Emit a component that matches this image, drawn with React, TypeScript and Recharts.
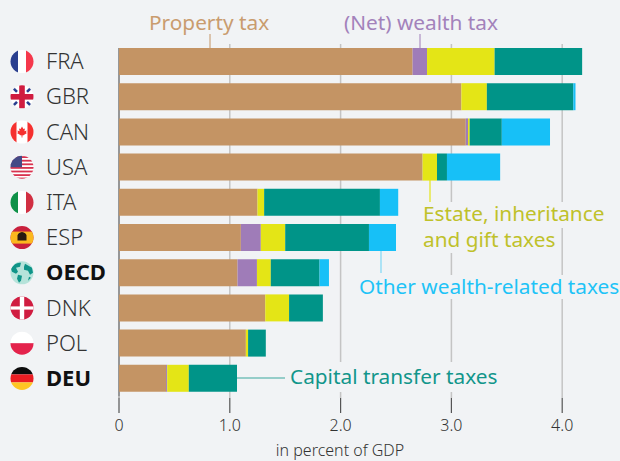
import { Bar, BarChart, CartesianGrid, XAxis, YAxis } from "recharts";

const countries = ["FRA", "GBR", "CAN", "USA", "ITA", "ESP", "OECD", "DNK", "POL", "DEU"];
const propertyTax = [2.65, 3.09, 3.13, 2.74, 1.25, 1.1, 1.07, 1.32, 1.145, 0.425];
const wealthTax = [0.13, 0, 0.02, 0, 0, 0.18, 0.175, 0, 0, 0.01];
const estateTax = [0.61, 0.23, 0.015, 0.13, 0.06, 0.22, 0.125, 0.215, 0.02, 0.195];
const capitalTax = [0.79, 0.78, 0.29, 0.09, 1.045, 0.756, 0.44, 0.305, 0.16, 0.435];
const otherTax = [0, 0.02, 0.435, 0.48, 0.165, 0.244, 0.085, 0, 0, 0];
const xTicks = [0, 1, 2, 3, 4];
const gridValues = [1, 2, 3, 4];
const boldCountries = ["OECD", "DEU"];

const data = countries.map((country, i) => ({
  country,
  propertyTax: propertyTax[i],
  wealthTax: wealthTax[i],
  estateTax: estateTax[i],
  capitalTax: capitalTax[i],
  otherTax: otherTax[i],
}));

const BG = "#f1f3f5";
const FONT = "'Noto Sans', sans-serif";

function FlagArt({ code }: { code: string }) {
  const navy = "#2a3f8f";
  switch (code) {
    case "FRA":
      return (
        <>
          <rect x={-12} y={-12} width={8} height={24} fill={navy} />
          <rect x={-4} y={-12} width={8} height={24} fill="#fff" />
          <rect x={4} y={-12} width={8} height={24} fill="#f5384c" />
        </>
      );
    case "GBR":
      return (
        <>
          <rect x={-12} y={-12} width={24} height={24} fill="#fff" />
          <path d="M-9,-9 L-5,-5 M9,-9 L5,-5 M-9,9 L-5,5 M9,9 L5,5" stroke={navy} strokeWidth={2.6} />
          <rect x={-2.8} y={-12} width={5.6} height={24} fill="#d01c40" />
          <rect x={-12} y={-2.8} width={24} height={5.6} fill="#d01c40" />
        </>
      );
    case "CAN":
      return (
        <>
          <rect x={-12} y={-12} width={24} height={24} fill="#fff" />
          <rect x={-12} y={-12} width={6.5} height={24} fill="#f5302f" />
          <rect x={5.5} y={-12} width={6.5} height={24} fill="#f5302f" />
          <path d="M0,-5.5 L1.4,-3 L3,-3.6 L2.4,-0.8 L4.6,-1.6 L4,0.4 L5,1 L1,3.4 L0.4,3.2 L0.4,5.5 L-0.4,5.5 L-0.4,3.2 L-1,3.4 L-5,1 L-4,0.4 L-4.6,-1.6 L-2.4,-0.8 L-3,-3.6 L-1.4,-3 Z" fill="#f5302f" />
        </>
      );
    case "USA":
      return (
        <>
          <rect x={-12} y={-12} width={24} height={24} fill="#fff" />
          {[-11, -7.4, -3.8, -0.2, 3.4, 7, 10.4].map((y) => (
            <rect key={y} x={-12} y={y} width={24} height={1.8} fill="#d8324f" />
          ))}
          <rect x={-12} y={-12} width={12} height={12} fill="#444a86" />
        </>
      );
    case "ITA":
      return (
        <>
          <rect x={-12} y={-12} width={8} height={24} fill="#0f9148" />
          <rect x={-4} y={-12} width={8} height={24} fill="#fff" />
          <rect x={4} y={-12} width={8} height={24} fill="#d12f42" />
        </>
      );
    case "ESP":
      return (
        <>
          <rect x={-12} y={-12} width={24} height={24} fill="#c9203d" />
          <rect x={-12} y={-6} width={24} height={12} fill="#fbb81e" />
          <path d="M-4.5,3 L-4.5,-2 Q-4,-5 0,-5.5 Q4,-5 4.5,-2 L4.5,3 Z" fill="#2a1a10" />
        </>
      );
    case "OECD":
      return (
        <>
          <rect x={-12} y={-12} width={24} height={24} fill="#b6e3da" />
          <path d="M-11,-4 Q-7,-11 -1,-10 L-2,-6 L-6,-5 L-4,-1 L-6,1 L-10,-1 Z M-4,2 L0,3 L-1,8 L-3,10 L-5,6 Z M3,-9 L10,-5 L11,0 L8,2 L6,-2 L2,-3 L2,-6 Z M7,4 L9,5 L6,8 Z" fill="#0f9488" />
        </>
      );
    case "DNK":
      return (
        <>
          <rect x={-12} y={-12} width={24} height={24} fill="#d01c40" />
          <rect x={-2.2} y={-12} width={4.4} height={24} fill="#fff" />
          <rect x={-12} y={-1.6} width={24} height={3.2} fill="#fff" />
        </>
      );
    case "POL":
      return (
        <>
          <rect x={-12} y={-12} width={24} height={12} fill="#fff" />
          <rect x={-12} y={0} width={24} height={12} fill="#e4234c" />
        </>
      );
    default:
      return (
        <>
          <rect x={-12} y={-12} width={24} height={8} fill="#0c0c0c" />
          <rect x={-12} y={-4} width={24} height={8} fill="#ea1d23" />
          <rect x={-12} y={4} width={24} height={8} fill="#fec524" />
        </>
      );
  }
}

function CountryTick({ y, payload }: any) {
  const code = payload.value;
  const bold = boldCountries.includes(code);
  return (
    <g>
      <g transform={`translate(22,${y})`}>
        <clipPath id={`flag-${code}`}>
          <circle r={11.5} />
        </clipPath>
        <g clipPath={`url(#flag-${code})`}>
          <FlagArt code={code} />
        </g>
      </g>
      <text
        x={46}
        y={y + 7.5}
        fontFamily={FONT}
        fontSize={22}
        fontWeight={bold ? 700 : 300}
        fill={bold ? "#111" : "#333"}
      >
        {code}
      </text>
    </g>
  );
}

function ValueTick({ x, payload }: any) {
  return (
    <g>
      <line x1={x} x2={x} y1={396} y2={398} stroke="#c4c4c4" strokeWidth={1.5} />
      <line x1={x} x2={x} y1={398} y2={413} stroke="#555" strokeWidth={1.2} />
      <text x={x} y={431} textAnchor="middle" fontFamily={FONT} fontSize={16} fontWeight={300} fill="#333">
        {payload.value === 0 ? "0" : payload.value.toFixed(1)}
      </text>
    </g>
  );
}

function Label({ x, y, color, children }: any) {
  return (
    <text x={x} y={y} fontFamily={FONT} fontSize={20.8} fontWeight={400} fill={color}>
      {children}
    </text>
  );
}

export default function App() {
  return (
    <div style={{ position: "absolute", left: 0, top: 0, width: 620, height: 461, background: BG }}>
      <BarChart
        width={620}
        height={461}
        data={data}
        layout="vertical"
        margin={{ top: 44, right: 2.4, bottom: 0, left: 0 }}
        barSize={27}
      >
        <CartesianGrid vertical horizontal={false} verticalValues={gridValues} stroke="#c4c4c4" strokeWidth={1.5} />
        <XAxis
          type="number"
          domain={[0, 4.5]}
          ticks={xTicks}
          axisLine={false}
          tickLine={false}
          tick={<ValueTick />}
          height={65}
          interval={0}
        />
        <YAxis
          type="category"
          dataKey="country"
          width={119}
          axisLine={false}
          tickLine={false}
          tick={<CountryTick />}
          interval={0}
        />
        <Bar dataKey="propertyTax" stackId="a" fill="#c49464" isAnimationActive={false} />
        <Bar dataKey="wealthTax" stackId="a" fill="#9f7cb8" isAnimationActive={false} />
        <Bar dataKey="estateTax" stackId="a" fill="#e4e516" isAnimationActive={false} />
        <Bar dataKey="capitalTax" stackId="a" fill="#009488" isAnimationActive={false} />
        <Bar dataKey="otherTax" stackId="a" fill="#17c0f7" isAnimationActive={false} />

        <line x1={119} x2={119} y1={48} y2={398} stroke="#777" strokeWidth={1.5} />

        <rect x={423} y={202} width={186} height={26} fill={BG} />
        <rect x={423} y={228} width={132} height={25} fill={BG} />
        <rect x={355} y={275} width={265} height={24} fill={BG} />
        <rect x={285} y={362} width={215} height={30} fill={BG} />

        <line x1={210} x2={210} y1={34} y2={48} stroke="#c49464" strokeWidth={1} />
        <line x1={420} x2={420} y1={34} y2={48} stroke="#9f7cb8" strokeWidth={1} />
        <line x1={430} x2={430} y1={180} y2={202} stroke="#e4e516" strokeWidth={1.2} />
        <line x1={381} x2={381} y1={251} y2={273} stroke="#7fd8f5" strokeWidth={1.2} />
        <line x1={237} x2={285} y1={378} y2={378} stroke="#3aa89e" strokeWidth={1.2} />

        <Label x={149} y={30} color="#c99c6e">Property tax</Label>
        <Label x={344} y={30} color="#a382bb">(Net) wealth tax</Label>
        <Label x={423} y={221} color="#bfc12a">
          <tspan x={423} y={221}>Estate, inheritance</tspan>
          <tspan x={423} y={247}>and gift taxes</tspan>
        </Label>
        <Label x={359} y={294} color="#1ec3f7">Other wealth-related taxes</Label>
        <Label x={290} y={384} color="#12968b">Capital transfer taxes</Label>
        <text x={340} y={456} textAnchor="middle" fontFamily={FONT} fontSize={16} fontWeight={300} fill="#333">
          in percent of GDP
        </text>
      </BarChart>
    </div>
  );
}
